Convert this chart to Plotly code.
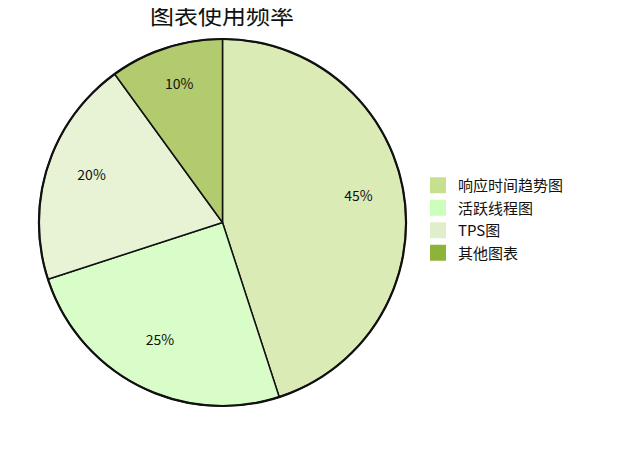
import plotly.graph_objects as go

labels = ["响应时间趋势图", "活跃线程图", "TPS图", "其他图表"]
values = [45, 25, 20, 10]
slice_colors = ["#dbebb6", "#d9fdc8", "#e8f2d4", "#b2cb6e"]
legend_colors = ["#c6e08f", "#ccffbb", "#e0eecc", "#8db33a"]

font_family = "Noto Sans CJK SC, Noto Sans, sans-serif"
# page body has an 8px margin, so positions are shifted by 8px
pie_domain = dict(x=[30 / 631, 399 / 631], y=[52 / 450, 419 / 450])
# label ring sits a few px higher so the percent texts land where they should
label_domain = dict(x=[30 / 631, 399 / 631], y=[58 / 450, 425 / 450])

fig = go.Figure()

fig.add_trace(go.Pie(
    labels=labels,
    values=values,
    sort=False,
    direction="clockwise",
    rotation=0,
    marker=dict(colors=slice_colors, line=dict(color="#111111", width=1.5)),
    textinfo="none",
    showlegend=False,
    domain=pie_domain,
))

# transparent ring only used to place the percent labels further out
fig.add_trace(go.Pie(
    labels=labels,
    values=values,
    sort=False,
    direction="clockwise",
    rotation=0,
    hole=0.5,
    marker=dict(colors=["rgba(0,0,0,0)"] * len(values), line=dict(width=0)),
    textinfo="percent",
    textposition="inside",
    insidetextorientation="horizontal",
    textfont=dict(family=font_family, size=14, color="#111111"),
    hoverinfo="skip",
    showlegend=False,
    domain=label_domain,
))

# outer ring drawn a bit heavier
fig.add_trace(go.Pie(
    values=[sum(values)],
    labels=["all"],
    marker=dict(colors=["rgba(0,0,0,0)"], line=dict(color="#111111", width=2.2)),
    textinfo="none",
    hoverinfo="skip",
    showlegend=False,
    domain=pie_domain,
))

# legend swatches
for name, col in zip(labels, legend_colors):
    fig.add_trace(go.Scatter(
        x=[None], y=[None], mode="markers", name=name, legendgroup=name,
        marker=dict(symbol="square", size=17, color=col),
    ))

fig.update_layout(
    width=631,
    height=450,
    margin=dict(l=0, r=0, t=0, b=0),
    paper_bgcolor="white",
    plot_bgcolor="white",
    title=dict(
        text="图表使用频率",
        x=214 / 631, xanchor="center",
        y=1 - 8 / 450, yanchor="middle",
        font=dict(family=font_family, size=24, color="#111111"),
    ),
    xaxis=dict(visible=False),
    yaxis=dict(visible=False),
    legend=dict(
        x=410 / 631, xanchor="left",
        y=1 - 211 / 450, yanchor="middle",
        font=dict(family=font_family, size=15, color="#111111"),
        tracegroupgap=0,
        itemclick=False,
    ),
)

fig.write_html("out.html")
